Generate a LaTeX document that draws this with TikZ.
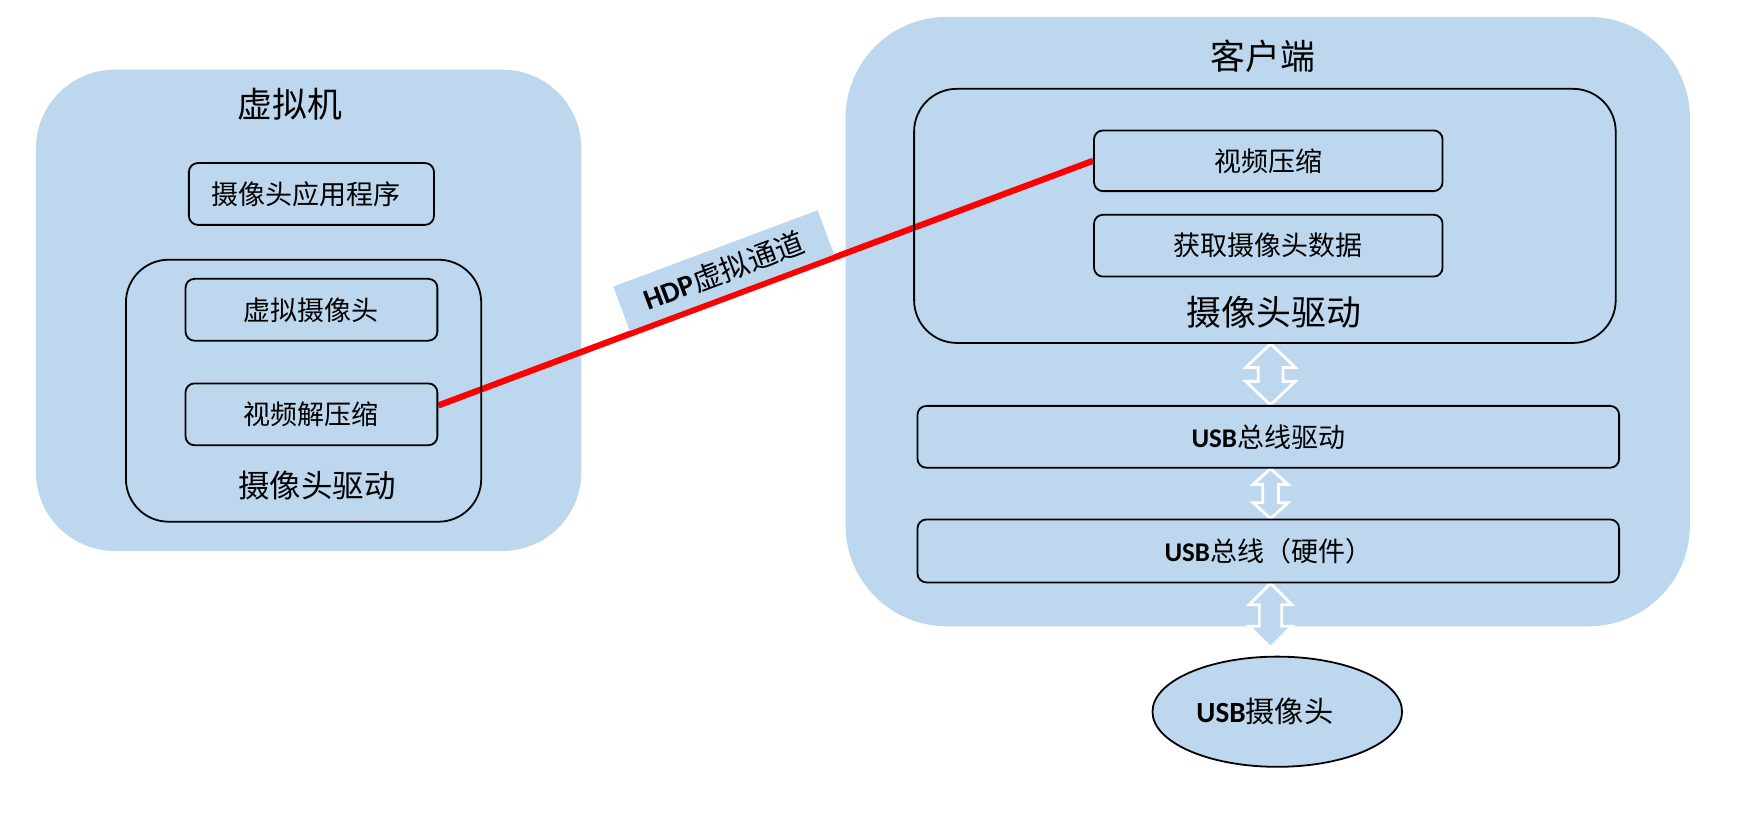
\documentclass[tikz,border=0pt]{standalone}
\usepackage{fontspec}
\setmainfont{Carlito}
\newfontfamily\cjk{Noto Sans CJK SC}
\usetikzlibrary{calc,shapes.geometric}
\definecolor{pblue}{HTML}{BDD7EE}
\definecolor{lred}{HTML}{FF0000}
\pgfdeclarelayer{bg}
\pgfdeclarelayer{mid}
\pgfsetlayers{bg,mid,main}
\newcommand\vdarrow[5]{%
 \draw[dblarr] let \p1=(#1), \p2=(#2) in
 (\x1,\y1) -- (\x1+#3,\y1-#5) -- (\x1+#4,\y1-#5) -- (\x1+#4,\y2+#5) -- (\x1+#3,\y2+#5)
 -- (\x1,\y2) -- (\x1-#3,\y2+#5) -- (\x1-#4,\y2+#5) -- (\x1-#4,\y1-#5) -- (\x1-#3,\y1-#5) -- cycle;}
\begin{document}
\begin{tikzpicture}[x=1pt,y=-1pt,
 panel/.style={fill=pblue, draw=none, inner sep=0pt},
 grp/.style={draw=black, line width=1.6pt, rounded corners=38pt, inner sep=0pt},
 box/.style={draw=black, line width=1.6pt, rounded corners=8pt, inner sep=0pt,
   minimum height=55pt, font=\fontsize{24}{28}\selectfont},
 ttl/.style={font=\fontsize{31}{36}\selectfont\cjk, inner sep=0pt},
 dblarr/.style={fill=pblue, draw=white, line width=2.5pt, line join=miter},
 chan/.style={draw=lred, line width=5.5pt},
 chanlbl/.style={fill=pblue, inner sep=0pt, minimum width=194pt, minimum height=42pt,
   font=\fontsize{26}{30}\selectfont, sloped, anchor=south, outer sep=2.5pt}]
\useasboundingbox (0,0) rectangle (1568,735.5);
% panels
\begin{pgfonlayer}{bg}
\node[panel, minimum width=485pt, minimum height=428pt, rounded corners=70pt] (vm) at (274.5,276) {};
\node[panel, minimum width=751pt, minimum height=542pt, rounded corners=90pt] (cl) at (1127.5,286) {};
\end{pgfonlayer}
% left side
\node[ttl] (vmt) at (258,93) {虚拟机};
\node[box, minimum width=218pt] (app) at (277,172.5) {\cjk 摄像头应用程序\hspace*{10pt}};
\node[grp, minimum width=316pt, minimum height=233pt] (drvL) at (270,347.5) {};
\node[box, minimum width=224pt] (vcam) at (277,275.5) {\cjk 虚拟摄像头};
\node[box, minimum width=224pt] (vdec) at (277,368.5) {\cjk 视频解压缩};
\node[ttl, font=\fontsize{28}{32}\selectfont\cjk] (drvLt) at (282,432) {摄像头驱动};
% right side
\node[ttl] (clt) at (1123,50) {客户端};
\node[grp, minimum width=624pt, minimum height=226pt] (drvR) at (1125,192) {};
\node[box, minimum width=310pt, minimum height=54pt] (vcomp) at (1128,143) {\cjk 视频压缩};
\node[box, minimum width=310pt] (getd) at (1128,218.5) {\cjk 获取摄像头数据};
\node[ttl] (drvRt) at (1133,278) {摄像头驱动};
\node[box, minimum width=624pt, font=\fontsize{24}{28}\selectfont] (usbdrv) at (1128,388.5) {\textbf{USB}{\cjk 总线驱动}};
\node[box, minimum width=624pt, minimum height=56pt, font=\fontsize{24}{28}\selectfont] (usbhw) at (1128,490) {\textbf{USB}{\cjk 总线（硬件）}};
\node[ellipse, draw=black, line width=1.6pt, fill=pblue, minimum width=222pt, minimum height=98pt,
  inner sep=0pt, font=\fontsize{26}{30}\selectfont] (cam) at (1136,633) {\textbf{USB}{\cjk 摄像头}\hspace*{22pt}};
\coordinate (ax) at (1130,0);
\coordinate (a3end) at (1130,576);
\begin{pgfonlayer}{mid}
\vdarrow{ax |- drvR.south}{ax |- usbdrv.north}{22pt}{11pt}{21pt}
\vdarrow{ax |- usbdrv.south}{ax |- usbhw.north}{15.5pt}{7pt}{14pt}
\vdarrow{ax |- usbhw.south}{a3end}{19pt}{10pt}{19pt}
\coordinate (vdecout) at ($(vdec.north east)!0.36!(vdec.south east)$);
\draw[chan] (vdecout) -- node[chanlbl, pos=0.45] {\textbf{HDP}{\cjk 虚拟通道}} (vcomp.west);
\end{pgfonlayer}
\end{tikzpicture}
\end{document}
